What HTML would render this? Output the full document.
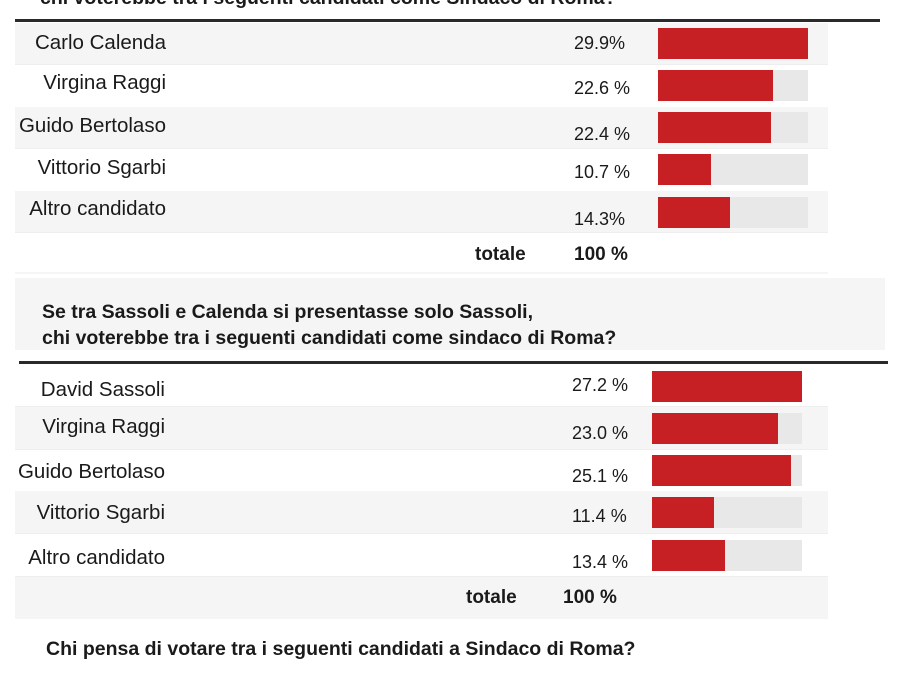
<!DOCTYPE html>
<html><head><meta charset="utf-8"><style>
body{margin:0;width:900px;height:675px;background:#fff;overflow:hidden;position:relative;font-family:"Liberation Sans",sans-serif;color:#1a1a1a}
div{position:absolute}
.t{white-space:nowrap;font-size:20.5px;line-height:20px}
.l{text-align:right;width:300px}
.b{font-weight:bold}
.g{background:#f5f5f5}
.tr{background:#e8e8e8}
.r{background:#c62024}
.h{font-size:19.5px;font-weight:bold;white-space:nowrap;line-height:20px}
</style></head><body>
<div class="h" style="left:40px;top:-12px">chi voterebbe tra i seguenti candidati come Sindaco di Roma?</div>
<div style="left:15px;top:19px;width:865px;height:3px;background:#2a2a2a"></div>
<div class="g" style="left:15px;top:23px;width:813px;height:41px"></div>
<div class="g" style="left:15px;top:107px;width:813px;height:41px"></div>
<div class="g" style="left:15px;top:191px;width:813px;height:41px"></div>
<div style="left:15px;top:64px;width:813px;height:1px;background:#eee"></div>
<div style="left:15px;top:148px;width:813px;height:1px;background:#eee"></div>
<div style="left:15px;top:232px;width:813px;height:1px;background:#eee"></div>
<div class="g" style="left:15px;top:272px;width:813px;height:2px"></div>
<div class="t l" style="left:-134px;top:33px">Carlo Calenda</div>
<div class="t l" style="left:-134px;top:73px">Virgina Raggi</div>
<div class="t l" style="left:-134px;top:116px">Guido Bertolaso</div>
<div class="t l" style="left:-134px;top:158px">Vittorio Sgarbi</div>
<div class="t l" style="left:-134px;top:199px">Altro candidato</div>
<div class="t" style="left:574px;top:33px;font-size:18px">29.9%</div>
<div class="t" style="left:574px;top:78px;font-size:18px">22.6 %</div>
<div class="t" style="left:574px;top:124px;font-size:18px">22.4 %</div>
<div class="t" style="left:574px;top:162px;font-size:18px">10.7 %</div>
<div class="t" style="left:574px;top:209px;font-size:18px">14.3%</div>
<div class="t b" style="left:475px;top:245px;font-size:19px">totale</div>
<div class="t b" style="left:574px;top:245px;font-size:19px">100 %</div>
<div class="tr" style="left:658px;top:28px;width:150px;height:31px"></div><div class="r" style="left:658px;top:28px;width:150px;height:31px"></div>
<div class="tr" style="left:658px;top:70px;width:150px;height:31px"></div><div class="r" style="left:658px;top:70px;width:115px;height:31px"></div>
<div class="tr" style="left:658px;top:112px;width:150px;height:31px"></div><div class="r" style="left:658px;top:112px;width:113px;height:31px"></div>
<div class="tr" style="left:658px;top:154px;width:150px;height:31px"></div><div class="r" style="left:658px;top:154px;width:53px;height:31px"></div>
<div class="tr" style="left:658px;top:197px;width:150px;height:31px"></div><div class="r" style="left:658px;top:197px;width:72px;height:31px"></div>

<div class="g" style="left:15px;top:278px;width:870px;height:72px"></div>
<div class="h" style="left:42px;top:302px">Se tra Sassoli e Calenda si presentasse solo Sassoli,</div>
<div class="h" style="left:42px;top:328px">chi voterebbe tra i seguenti candidati come sindaco di Roma?</div>
<div style="left:19px;top:361px;width:869px;height:3px;background:#2a2a2a"></div>
<div class="g" style="left:15px;top:407px;width:813px;height:42px"></div>
<div class="g" style="left:15px;top:491px;width:813px;height:42px"></div>
<div class="g" style="left:15px;top:577px;width:813px;height:42px"></div>
<div style="left:15px;top:406px;width:813px;height:1px;background:#eee"></div>
<div style="left:15px;top:449px;width:813px;height:1px;background:#eee"></div>
<div style="left:15px;top:533px;width:813px;height:1px;background:#eee"></div>
<div style="left:15px;top:576px;width:813px;height:1px;background:#eee"></div>
<div class="t l" style="left:-135px;top:380px">David Sassoli</div>
<div class="t l" style="left:-135px;top:417px">Virgina Raggi</div>
<div class="t l" style="left:-135px;top:462px">Guido Bertolaso</div>
<div class="t l" style="left:-135px;top:503px">Vittorio Sgarbi</div>
<div class="t l" style="left:-135px;top:548px">Altro candidato</div>
<div class="t" style="left:572px;top:375px;font-size:18px">27.2 %</div>
<div class="t" style="left:572px;top:423px;font-size:18px">23.0 %</div>
<div class="t" style="left:572px;top:466px;font-size:18px">25.1 %</div>
<div class="t" style="left:572px;top:506px;font-size:18px">11.4 %</div>
<div class="t" style="left:572px;top:552px;font-size:18px">13.4 %</div>
<div class="t b" style="left:466px;top:588px;font-size:19px">totale</div>
<div class="t b" style="left:563px;top:588px;font-size:19px">100 %</div>
<div class="tr" style="left:652px;top:371px;width:150px;height:31px"></div><div class="r" style="left:652px;top:371px;width:150px;height:31px"></div>
<div class="tr" style="left:652px;top:413px;width:150px;height:31px"></div><div class="r" style="left:652px;top:413px;width:126px;height:31px"></div>
<div class="tr" style="left:652px;top:455px;width:150px;height:31px"></div><div class="r" style="left:652px;top:455px;width:139px;height:31px"></div>
<div class="tr" style="left:652px;top:497px;width:150px;height:31px"></div><div class="r" style="left:652px;top:497px;width:62px;height:31px"></div>
<div class="tr" style="left:652px;top:540px;width:150px;height:31px"></div><div class="r" style="left:652px;top:540px;width:73px;height:31px"></div>
<div class="h" style="left:46px;top:639px">Chi pensa di votare tra i seguenti candidati a Sindaco di Roma?</div>
</body></html>
